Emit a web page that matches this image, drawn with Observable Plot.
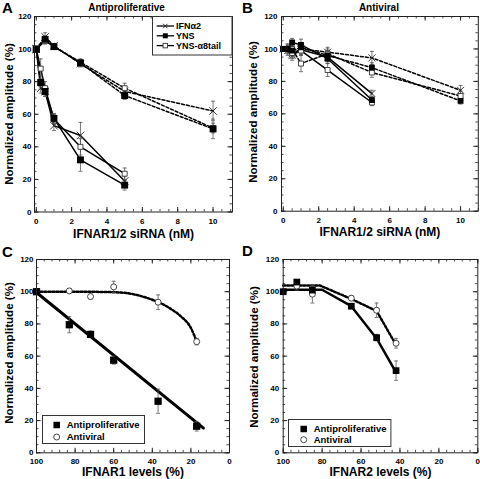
<!DOCTYPE html>
<html><head><meta charset="utf-8">
<script src="https://cdn.jsdelivr.net/npm/d3@7"></script>
<script src="https://cdn.jsdelivr.net/npm/@observablehq/plot@0.6"></script>
<style>
body{margin:0;background:#fff;}
#wrap{position:relative;width:480px;height:479px;overflow:hidden;font-family:"Liberation Sans",Arial,sans-serif;}
.pan{position:absolute;}
</style></head><body><div id="wrap"></div>
<script>
// ---------- DATA ----------
const seriesNames = ["IFNα2", "YNS", "YNS-α8tail"];
// Panel A (Antiproliferative)
const A_x_sol = [0, 0.25, 0.5, 1, 2.5, 5];
const A_x_dash = [0, 0.5, 1, 2.5, 5, 10];
const A_sol_IFN = [100, 76, 74, 53, 47, 19];
const A_sol_IFN_err = [0, 3, 3, 3, 8, 3];
const A_sol_YNS = [100, 79.5, 74, 57.5, 32, 16.5];
const A_sol_YNS_err = [0, 4, 3, 3, 7, 3];
const A_sol_TAIL = [100, 88, 76, 57, 40, 23.5];
const A_sol_TAIL_err = [0, 6, 4, 3, 5, 3.5];
const A_dash_IFN = [100, 107.5, 102, 91, 74, 62];
const A_dash_IFN_err = [0, 2.5, 1.5, 2, 3, 6];
const A_dash_YNS = [100, 106, 101.5, 91.5, 71.5, 51];
const A_dash_YNS_err = [0, 2, 1.5, 2, 2.5, 6];
const A_dash_TAIL = [100, 105, 101.5, 92, 76, 51.5];
const A_dash_TAIL_err = [0, 2, 1.5, 2, 3, 3];
// Panel B (Antiviral)
const B_x_sol = [0, 0.25, 0.5, 1, 2.5, 5];
const B_x_dash = [0, 0.5, 1, 2.5, 5, 10];
const B_sol_IFN = [100, 99, 96, 99.5, 95, 72.5];
const B_sol_IFN_err = [0, 3, 3, 3, 3, 2];
const B_sol_YNS = [100, 100, 104, 102.5, 94, 68.5];
const B_sol_YNS_err = [0, 3, 2.5, 3.5, 3, 2];
const B_sol_TAIL = [100, 100, 97.5, 99, 87, 67];
const B_sol_TAIL_err = [0, 3, 3, 3, 4, 2];
const B_dash_IFN = [100, 97, 100, 98, 94.5, 74.5];
const B_dash_IFN_err = [0, 3, 3, 3, 4, 3];
const B_dash_YNS = [100, 99, 101, 96, 88.5, 68];
const B_dash_YNS_err = [0, 3, 3, 3, 3, 2];
const B_dash_TAIL = [100, 100, 91, 97, 85.5, 71];
const B_dash_TAIL_err = [0, 3, 5, 3, 3, 3];
// Panel C (IFNAR1 levels)
const C_ap_x = [100, 83, 72, 60, 37, 17];
const C_ap_y = [100, 79.5, 73.5, 57.5, 32, 16.5];
const C_ap_err = [1, 5, 2, 2.5, 7.5, 3];
const C_av_x = [100, 83, 72, 60, 37, 17];
const C_av_y = [100, 100.5, 97, 103, 93.5, 69];
const C_av_err = [0, 1.5, 1.5, 3.5, 4.5, 2];
const C_apFit_x = [100, 13.5];
const C_apFit_y = [99.5, 15.3];
const C_avFit_x = [100, 80, 60, 50, 45, 40, 35, 30, 25, 20, 17];
const C_avFit_y = [100, 100, 99.7, 98.5, 97, 95, 92.5, 89, 84.5, 77.5, 69];
// Panel D (IFNAR2 levels)
const D_ap_x = [100, 93, 85, 65, 52, 42];
const D_ap_y = [100, 106, 101, 91, 71.5, 51];
const D_ap_err = [1, 1.5, 2, 1.5, 2, 6];
const D_av_x = [93, 85, 65, 52, 42];
const D_av_y = [103.5, 98.5, 96, 88.5, 68];
const D_av_err = [2.5, 5.5, 1.5, 4.5, 3];
const D_apFit_x = [100, 80, 65, 52, 42];
const D_apFit_y = [101.2, 101.2, 91, 71, 50];
const D_avFit_x = [100, 81, 65, 52, 42];
const D_avFit_y = [103.8, 103.8, 95.5, 88, 67];
// Ticks
const yMajor = [0, 20, 40, 60, 80, 100, 120];
const yMinor = d3.range(0, 121, 5);
const siMajor = [0, 2, 4, 6, 8, 10];
const siMinor = d3.range(0, 11.01, 0.5);
const lvMajor = [100, 80, 60, 40, 20, 0];
const lvMinor = d3.range(0, 101, 4);
const yTitle = "Normalized amplitude (%)";

// ---------- HELPERS ----------
const FONT = "Liberation Sans, Arial, sans-serif";
const wrap = document.getElementById("wrap");
const rows = (xs, ys, es, name) => xs.map((x, i) => ({x, y: ys[i], e: es ? es[i] : 0, name}));
const capSym = {draw(ctx, size) { const r = Math.sqrt(size / Math.PI); ctx.moveTo(-r, 0); ctx.lineTo(r, 0); }};

function errMarks(data, color = "#444") {
  const d = data.filter(r => r.e > 0);
  return [
    Plot.ruleX(d, {x: "x", y1: r => r.y - r.e, y2: r => r.y + r.e, stroke: color, strokeWidth: 0.8}),
    Plot.dot(d, {x: "x", y: r => r.y + r.e, symbol: capSym, r: 2, stroke: color, strokeWidth: 0.8, fill: "none"}),
    Plot.dot(d, {x: "x", y: r => r.y - r.e, symbol: capSym, r: 2, stroke: color, strokeWidth: 0.8, fill: "none"})
  ];
}

function panel(o) {
  const ph = o.h - o.mt - o.mb, pw = o.w - o.ml - o.mr;
  const marks = [
    Plot.tickX(o.xMinor, {x: d => d, insetTop: ph - 2.5, stroke: "#222", strokeWidth: 0.8}),
    Plot.tickX(o.xMinor, {x: d => d, insetBottom: ph - 2.5, stroke: "#222", strokeWidth: 0.8}),
    Plot.tickX(o.xMajor, {x: d => d, insetTop: ph - 4.5, stroke: "#222", strokeWidth: 1}),
    Plot.tickX(o.xMajor, {x: d => d, insetBottom: ph - 4.5, stroke: "#222", strokeWidth: 1}),
    Plot.tickY(yMinor, {y: d => d, insetRight: pw - 2.5, stroke: "#222", strokeWidth: 0.8}),
    Plot.tickY(yMinor, {y: d => d, insetLeft: pw - 2.5, stroke: "#222", strokeWidth: 0.8}),
    Plot.tickY(yMajor, {y: d => d, insetRight: pw - 4.5, stroke: "#222", strokeWidth: 1}),
    Plot.tickY(yMajor, {y: d => d, insetLeft: pw - 4.5, stroke: "#222", strokeWidth: 1}),
    Plot.text(o.xMajor, {x: d => d, frameAnchor: "bottom", dy: o.xtdy, text: d => String(d), fontSize: 8, fontWeight: "bold", lineAnchor: "middle"}),
    Plot.text(yMajor, {y: d => d, frameAnchor: "left", dx: -o.ytpad, text: d => String(d), fontSize: 8, fontWeight: "bold", textAnchor: "end"}),
    Plot.text([o.xlabel], {frameAnchor: "bottom", dy: o.xldy, text: d => d, fontSize: 12, fontWeight: "bold", lineAnchor: "middle"}),
    ...(o.title ? [Plot.text([o.title], {frameAnchor: "top", dx: o.tdx, dy: -9, text: d => d, fontSize: 10, fontWeight: "bold", lineAnchor: "middle"})] : []),
    ...o.marks,
    Plot.frame({stroke: "#222", strokeWidth: 1})
  ];
  const svg = Plot.plot({
    width: o.w, height: o.h,
    marginLeft: o.ml, marginRight: o.mr, marginTop: o.mt, marginBottom: o.mb,
    x: {domain: o.xdom, axis: null},
    y: {domain: [0, 120], axis: null},
    style: {fontFamily: FONT, background: "transparent", color: "#000", overflow: "visible"},
    marks
  });
  const div = document.createElement("div");
  div.className = "pan";
  div.style.left = o.left + "px"; div.style.top = o.top + "px";
  div.appendChild(svg);
  wrap.appendChild(div);
}

function siRNAMarks(sol, dash, rSq, rOpen, rX) {
  const all = [...sol, ...dash];
  const lineOpts = {x: "x", y: "y", z: "name", stroke: "#000", strokeWidth: 1.5};
  return [
    Plot.line(sol, lineOpts),
    Plot.line(dash, {...lineOpts, strokeDasharray: "3,2"}),
    ...errMarks(all, "#555"),
    Plot.dot(all.filter(d => d.name === seriesNames[0]), {x: "x", y: "y", symbol: "times", r: rX, stroke: "#222", strokeWidth: 0.9}),
    Plot.dot(all.filter(d => d.name === seriesNames[2]), {x: "x", y: "y", symbol: "square", r: rOpen, fill: "#fff", stroke: "#333", strokeWidth: 0.9}),
    Plot.dot(all.filter(d => d.name === seriesNames[1]), {x: "x", y: "y", symbol: "square", r: rSq, fill: "#000", stroke: "none"})
  ];
}

// ---------- PANEL A ----------
const A_sol = [
  ...rows(A_x_sol, A_sol_IFN, A_sol_IFN_err, seriesNames[0]),
  ...rows(A_x_sol, A_sol_YNS, A_sol_YNS_err, seriesNames[1]),
  ...rows(A_x_sol, A_sol_TAIL, A_sol_TAIL_err, seriesNames[2])];
const A_dash = [
  ...rows(A_x_dash, A_dash_IFN, A_dash_IFN_err, seriesNames[0]),
  ...rows(A_x_dash, A_dash_YNS, A_dash_YNS_err, seriesNames[1]),
  ...rows(A_x_dash, A_dash_TAIL, A_dash_TAIL_err, seriesNames[2])];
panel({left: 0, top: 0, w: 240, h: 240, ml: 34, mr: 8, mt: 16, mb: 28.5, xdom: [-0.1, 11.1],
  xMajor: siMajor, xMinor: siMinor, xtdy: 9.5, ytpad: 3, xlabel: "IFNAR1/2 siRNA (nM)", xldy: 22,
  title: "Antiproliferative", tdx: -7,
  marks: siRNAMarks(A_sol, A_dash, 3.9, 2.8, 3.5)});

// ---------- PANEL B ----------
const B_sol = [
  ...rows(B_x_sol, B_sol_IFN, B_sol_IFN_err, seriesNames[0]),
  ...rows(B_x_sol, B_sol_YNS, B_sol_YNS_err, seriesNames[1]),
  ...rows(B_x_sol, B_sol_TAIL, B_sol_TAIL_err, seriesNames[2])];
const B_dash = [
  ...rows(B_x_dash, B_dash_IFN, B_dash_IFN_err, seriesNames[0]),
  ...rows(B_x_dash, B_dash_YNS, B_dash_YNS_err, seriesNames[1]),
  ...rows(B_x_dash, B_dash_TAIL, B_dash_TAIL_err, seriesNames[2])];
panel({left: 240, top: 0, w: 240, h: 240, ml: 41, mr: 2.2, mt: 16, mb: 29.3, xdom: [-0.1, 11],
  xMajor: siMajor, xMinor: siMinor, xtdy: 9.5, ytpad: 4, xlabel: "IFNAR1/2 siRNA (nM)", xldy: 20.5,
  title: "Antiviral", tdx: -1,
  marks: siRNAMarks(B_sol, B_dash, 3.3, 2.8, 3.3)});

// ---------- PANEL C ----------
const C_ap = rows(C_ap_x, C_ap_y, C_ap_err, "Antiproliferative");
const C_av = rows(C_av_x, C_av_y, C_av_err, "Antiviral");
const C_apFit = rows(C_apFit_x, C_apFit_y, null, "fit");
const C_avFit = rows(C_avFit_x, C_avFit_y, null, "fit");
panel({left: 0, top: 240, w: 240, h: 239, ml: 36, mr: 11, mt: 19, mb: 26.7, xdom: [100, 0],
  xMajor: lvMajor, xMinor: lvMinor, xtdy: 9, ytpad: 3, xlabel: "IFNAR1 levels (%)", xldy: 19.8,
  marks: [
    Plot.line(C_avFit, {x: "x", y: "y", curve: "monotone-x", stroke: "#000", strokeWidth: 2.5, strokeDasharray: "2,2"}),
    Plot.line(C_apFit, {x: "x", y: "y", stroke: "#000", strokeWidth: 3}),
    ...errMarks([...C_ap, ...C_av], "#555"),
    Plot.dot(C_av, {x: "x", y: "y", symbol: "circle", r: 3, fill: "#fff", stroke: "#333", strokeWidth: 0.9}),
    Plot.dot(C_ap, {x: "x", y: "y", symbol: "square", r: 4.1, fill: "#000", stroke: "none"})
  ]});

// ---------- PANEL D ----------
const D_ap = rows(D_ap_x, D_ap_y, D_ap_err, "Antiproliferative");
const D_av = rows(D_av_x, D_av_y, D_av_err, "Antiviral");
const D_apFit = rows(D_apFit_x, D_apFit_y, null, "fit");
const D_avFit = rows(D_avFit_x, D_avFit_y, null, "fit");
panel({left: 240, top: 240, w: 240, h: 239, ml: 42.7, mr: 2.7, mt: 19, mb: 26.7, xdom: [100, 0],
  xMajor: lvMajor, xMinor: lvMinor, xtdy: 9, ytpad: 4, xlabel: "IFNAR2 levels (%)", xldy: 19.5,
  marks: [
    Plot.line(D_avFit, {x: "x", y: "y", stroke: "#000", strokeWidth: 2.5, strokeDasharray: "2,2"}),
    Plot.line(D_apFit, {x: "x", y: "y", stroke: "#000", strokeWidth: 2.5}),
    ...errMarks([...D_ap, ...D_av], "#555"),
    Plot.dot(D_av, {x: "x", y: "y", symbol: "circle", r: 3, fill: "#fff", stroke: "#333", strokeWidth: 0.9}),
    Plot.dot(D_ap, {x: "x", y: "y", symbol: "square", r: 3.8, fill: "#000", stroke: "none"})
  ]});

// ---------- OVERLAY: y titles and panel letters ----------
const ov = d3.select(wrap).append("svg").attr("class", "pan").style("left", "0px").style("top", "0px")
  .attr("width", 480).attr("height", 479).style("pointer-events", "none");
[[8.5, 114], [252.5, 112], [8.5, 353], [254, 357]].forEach(([x, y]) => {
  ov.append("text").attr("transform", `translate(${x},${y}) rotate(-90)`).attr("text-anchor", "middle")
    .attr("dy", "0.35em").attr("font-family", FONT).attr("font-weight", "bold").attr("font-size", 11.6).text(yTitle);
});
[["A", 2, 12.5], ["B", 242, 12.5], ["C", 2, 256.5], ["D", 242, 256]].forEach(([t, x, y]) => {
  ov.append("text").attr("x", x).attr("y", y).attr("font-family", FONT).attr("font-weight", "bold")
    .attr("font-size", 15).text(t);
});

// ---------- LEGENDS ----------
function legend(o) {
  const svg = d3.select(wrap).append("svg").attr("class", "pan")
    .style("left", o.left + "px").style("top", o.top + "px")
    .attr("width", o.w).attr("height", o.h);
  svg.append("rect").attr("x", 0.5).attr("y", 0.5).attr("width", o.w - 1).attr("height", o.h - 1)
    .attr("fill", "#fff").attr("stroke", "#333").attr("stroke-width", 1);
  o.items.forEach((it, i) => {
    const y = o.rowY[i];
    if (o.line) svg.append("line").attr("x1", o.line[0]).attr("x2", o.line[1]).attr("y1", y).attr("y2", y)
      .attr("stroke", "#000").attr("stroke-width", 1.3);
    const s = it.size;
    if (it.type === "filled") svg.append("rect").attr("x", o.mx - s / 2).attr("y", y - s / 2).attr("width", s).attr("height", s).attr("fill", "#000");
    if (it.type === "open") svg.append("rect").attr("x", o.mx - s / 2).attr("y", y - s / 2).attr("width", s).attr("height", s).attr("fill", "#fff").attr("stroke", "#333").attr("stroke-width", 0.9);
    if (it.type === "circle") svg.append("circle").attr("cx", o.mx).attr("cy", y).attr("r", s / 2).attr("fill", "#fff").attr("stroke", "#333").attr("stroke-width", 0.9);
    if (it.type === "times") svg.append("path").attr("d", `M${o.mx - s / 2},${y - s / 2}L${o.mx + s / 2},${y + s / 2}M${o.mx - s / 2},${y + s / 2}L${o.mx + s / 2},${y - s / 2}`).attr("stroke", "#222").attr("stroke-width", 0.9);
    svg.append("text").attr("x", o.tx).attr("y", y).attr("dy", "0.35em").text(it.label)
      .attr("font-family", FONT).attr("font-weight", "bold").attr("font-size", o.fs);
  });
}
legend({left: 152, top: 16, w: 80.5, h: 39.5, line: [4.7, 22], mx: 13.3, tx: 24, fs: 9, rowY: [10, 19.8, 29.6],
  items: [{label: seriesNames[0], type: "times", size: 4.5}, {label: seriesNames[1], type: "filled", size: 5}, {label: seriesNames[2], type: "open", size: 4.5}]});
legend({left: 42, top: 415, w: 103, h: 29, mx: 14.7, tx: 24.7, fs: 9.5, rowY: [10, 22],
  items: [{label: "Antiproliferative", type: "filled", size: 6.5}, {label: "Antiviral", type: "circle", size: 6}]});
legend({left: 288.3, top: 419.3, w: 103.4, h: 28, mx: 15.7, tx: 25.7, fs: 9.5, rowY: [10, 20.7],
  items: [{label: "Antiproliferative", type: "filled", size: 6.5}, {label: "Antiviral", type: "circle", size: 6}]});
</script></body></html>
